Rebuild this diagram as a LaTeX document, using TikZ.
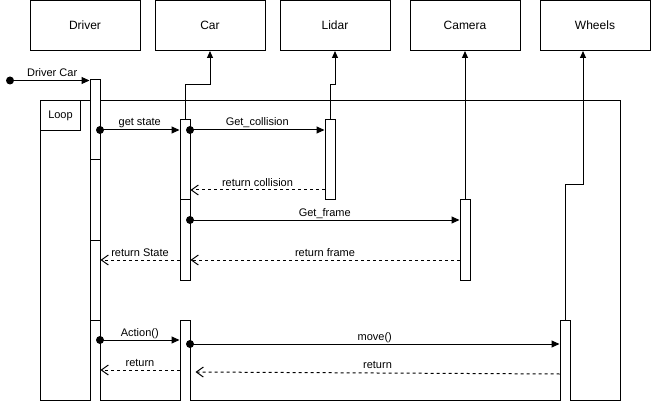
\documentclass[tikz,border=0pt]{standalone}
\usepackage{fontspec}
\setmainfont{Liberation Sans}
\usetikzlibrary{arrows.meta,calc}
\begin{document}
\begin{tikzpicture}[x=1pt,y=-1pt,
  every node/.style={inner sep=0pt},
  actor/.style={draw,line width=1pt,minimum width=110pt,minimum height=50pt,
    font=\fontsize{12}{14}\selectfont},
  bar/.style={draw,line width=1pt,fill=white,minimum width=10pt},
  life/.style={line width=1pt,-{Triangle[length=7pt,width=6pt]}},
  msg/.style={line width=1pt,-{Triangle[length=8pt,width=7pt]}},
  ret/.style={line width=1pt,dash pattern=on 3pt off 3pt,
    -{Straight Barb[length=7pt,width=10pt,line width=1pt]}},
  lbl/.style={font=\fontsize{11}{13}\selectfont,text height=8pt,text depth=2pt,yshift=7pt},
]
\useasboundingbox (0,0) rectangle (651,401);
\fill[white] (0,0) rectangle (651,401);

% participants
\node[actor] (driver) at (85,25.5) {Driver};
\node[actor] (car)    at (210,25.5) {Car};
\node[actor] (lidar)  at (335,25.5) {Lidar};
\node[actor] (camera) at (465,25.5) {Camera};
\node[actor] (wheels) at (595,25.5) {Wheels};

% loop fragment
\node[draw,line width=1pt,anchor=north west,minimum width=580pt,minimum height=300pt] (frame) at (40,100) {};

% lifelines
\coordinate (wjog) at (583,185);
\draw[life] (185,120) -- (185,85) -| (car.south);
\draw[life] (330,120) -- (330,85) -| (lidar.south);
\draw[life] (465,200) -- (camera.south);
\draw[life] (565,320) |- (wjog) -- (wjog |- wheels.south);

% activation bars
\node[bar,minimum height=80pt] (d1) at (95,120) {};
\node[bar,minimum height=80pt] (d2) at (95,200) {};
\node[bar,minimum height=80pt] (d3) at (95,280) {};
\node[bar,minimum height=85pt] (d4) at (95,362.5) {};
\node[bar,minimum height=80pt] (c1) at (185,160) {};
\node[bar,minimum height=80pt] (c2) at (185,240) {};
\node[bar,minimum height=85pt] (c3) at (185,362.5) {};
\node[bar,minimum height=80pt] (l1) at (330,160) {};
\node[bar,minimum height=80pt] (k1) at (465,240) {};
\node[bar,minimum height=85pt] (w1) at (565,362.5) {};

% loop tag
\node[draw,line width=1pt,fill=white,anchor=north west,minimum width=40pt,minimum height=30pt,
  font=\fontsize{11}{13}\selectfont] (looptag) at (40,100) {Loop};

% found message
\coordinate (src) at (10,80.5);
\draw[msg] (src) -- (d1.north west |- src) node[lbl,pos=0.53] {Driver Car};
\fill (src) circle (4pt);

% calls and replies
\coordinate (a1) at (100,130);
\draw[msg] (a1) -- (c1.west |- a1) node[lbl,midway] {get state};
\fill (a1) circle (4pt);

\coordinate (a2) at (190,130);
\draw[msg] (a2) -- (l1.west |- a2) node[lbl,midway] {Get\_collision};
\fill (a2) circle (4pt);

\draw[ret] (l1.west |- 0,190) -- (c1.east |- 0,190) node[lbl,midway] {return collision};

\coordinate (a3) at (190,220);
\draw[msg] (a3) -- (k1.west |- a3) node[lbl,midway] {Get\_frame};
\fill (a3) circle (4pt);

\draw[ret] (k1.west |- 0,260) -- (c2.east |- 0,260) node[lbl,midway] {return frame};
\draw[ret] (c2.west |- 0,260) -- (d3.east |- 0,260) node[lbl,midway] {return State};

\coordinate (a4) at (100,340);
\draw[msg] (a4) -- (c3.west |- a4) node[lbl,midway] {Action()};
\fill (a4) circle (4pt);

\coordinate (a5) at (190,344);
\draw[msg] (a5) -- (w1.west |- a5) node[lbl,midway] {move()};
\fill (a5) circle (4pt);

\draw[ret] (c3.west |- 0,370) -- (d4.east |- 0,370) node[lbl,midway] {return};
\draw[ret] (w1.west |- 0,374) -- ($(c3.east |- 0,372)+(5,0)$) node[lbl,midway,yshift=1pt] {return};
\end{tikzpicture}
\end{document}
